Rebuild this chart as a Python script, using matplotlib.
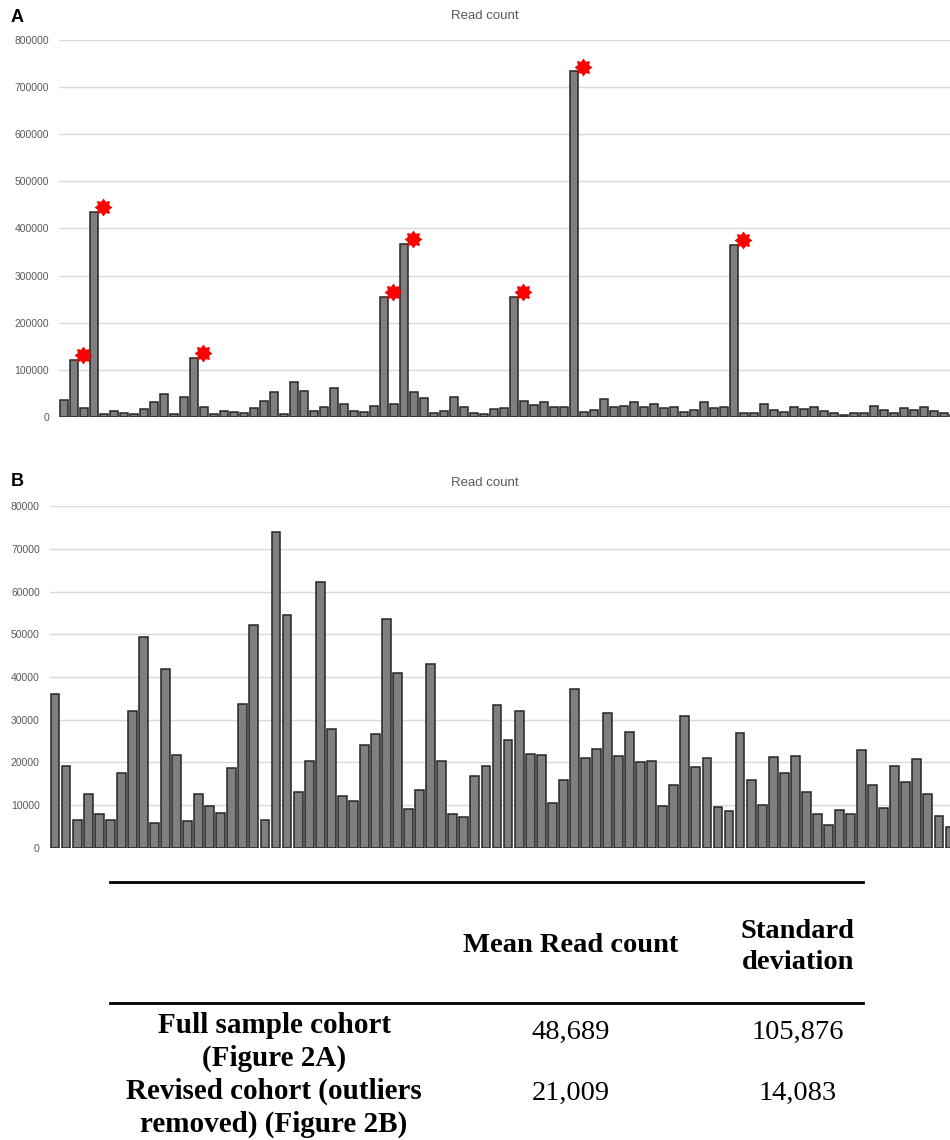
import matplotlib
matplotlib.use("Agg")
import matplotlib.pyplot as plt
from matplotlib.lines import Line2D
from matplotlib.path import Path
import numpy as np

# ---------------- data ----------------
# Full cohort read counts (Figure 2A), in sample order
read_counts_full = [
    36000, 121000, 19200, 435000, 6400, 12700, 8000, 6400, 17500, 32000,
    49300, 5900, 41800, 126000, 21800, 6300, 12600, 9700, 8100, 18700,
    33600, 52300, 6400, 74000, 54500, 13100, 20400, 62200, 27800, 12000,
    10900, 24100, 255000, 26600, 368000, 53600, 40900, 9000, 13500, 43100,
    20200, 8000, 7300, 16900, 19100, 255000, 33400, 25200, 32000, 22000,
    21700, 733500, 10500, 15900, 37200, 21100, 23100, 31500, 21600, 27200,
    20000, 20400, 9700, 14800, 30900, 18900, 21100, 366000, 9500, 8600,
    26900, 15900, 10100, 21300, 17600, 21600, 13000, 8000, 5300, 8800,
    7800, 23000, 14800, 9400, 19200, 15400, 20700, 12700, 7500, 4800,
]
# indices of samples flagged as outliers (red stars)
outlier_idx = [1, 3, 13, 32, 34, 45, 51, 67]

# revised cohort (Figure 2B) = full cohort without outliers
read_counts_revised = [v for i, v in enumerate(read_counts_full) if i not in outlier_idx]

yticks_a = [0, 100000, 200000, 300000, 400000, 500000, 600000, 700000, 800000]
yticks_b = [0, 10000, 20000, 30000, 40000, 50000, 60000, 70000, 80000]

table_cols = ["Mean Read count", "Standard\ndeviation"]
table_rows = ["Full sample cohort\n(Figure 2A)", "Revised cohort (outliers\nremoved) (Figure 2B)"]
table_means = ["48,689", "21,009"]
table_sds = ["105,876", "14,083"]

# ---------------- figure ----------------
W, H = 950, 1140
fig = plt.figure(figsize=(W / 100, H / 100), dpi=100)

def fx(px):
    return px / W

def fy(py):
    return 1 - py / H

bar_face = "#7f7f7f"
bar_edge = "#262626"
grid_col = "#d9d9d9"
tick_col = "#595959"
tick_font = "Liberation Sans"

# 8-pointed "seal" star marker
n_pts = 8
ang = np.linspace(0, 2 * np.pi, 2 * n_pts, endpoint=False) + np.pi / 2
rad = np.where(np.arange(2 * n_pts) % 2 == 0, 1.0, 0.68)
verts = np.column_stack([rad * np.cos(ang), rad * np.sin(ang)])
verts = np.vstack([verts, verts[:1]])
star_marker = Path(verts, closed=True)

def style_axes(ax, yticks):
    ax.set_yticks(yticks)
    ax.set_yticklabels([str(t) for t in yticks], fontsize=7.5, color=tick_col, family=tick_font)
    ax.set_ylim(yticks[0], yticks[-1])
    ax.yaxis.grid(True, color=grid_col, linewidth=1.0)
    ax.set_axisbelow(True)
    ax.set_xticks([])
    for s in ax.spines.values():
        s.set_visible(False)
    ax.tick_params(axis="y", length=0, pad=7)

# Panel A
axA = fig.add_axes([fx(59), fy(417), fx(950 - 59), fy(40) - fy(417)])
xa = np.arange(len(read_counts_full))
axA.bar(xa, read_counts_full, width=0.78, color=bar_face, edgecolor=bar_edge, linewidth=1.1, zorder=2)
style_axes(axA, yticks_a)
axA.set_xlim(-0.5, 88.6)
ox = [xa[i] + 0.85 for i in outlier_idx]
oy = [read_counts_full[i] + 10000 for i in outlier_idx]
axA.scatter(ox, oy, marker=star_marker, s=150, color="#ff0000", edgecolors="#e00000",
            linewidths=0.4, zorder=4, clip_on=False)

# Panel B
axB = fig.add_axes([fx(49.5), fy(847.7), fx(950 - 49.5), fy(506.3) - fy(847.7)])
xb = np.arange(len(read_counts_revised))
axB.bar(xb, read_counts_revised, width=0.8, color=bar_face, edgecolor=bar_edge, linewidth=1.1, zorder=2)
style_axes(axB, yticks_b)
axB.set_xlim(-0.5, 81.0)

# titles and panel letters
fig.text(fx(485), fy(16), "Read count", ha="center", va="center", fontsize=9.5, color=tick_col, family=tick_font)
fig.text(fx(485), fy(483), "Read count", ha="center", va="center", fontsize=9.5, color=tick_col, family=tick_font)
fig.text(fx(11), fy(18), "A", ha="left", va="center", fontsize=13, fontweight="bold", family="Liberation Sans")
fig.text(fx(11), fy(481), "B", ha="left", va="center", fontsize=13, fontweight="bold", family="Liberation Sans")

# ---------------- table ----------------
serif = "Liberation Serif"
for ly in (882, 1003):
    fig.add_artist(Line2D([fx(110), fx(863)], [fy(ly), fy(ly)], color="black", linewidth=2.0))

col_x = [571, 798]
fig.text(fx(col_x[0]), fy(946), table_cols[0], ha="center", va="center",
         fontsize=20.5, fontweight="bold", family=serif)
fig.text(fx(col_x[1]), fy(947), table_cols[1], ha="center", va="center",
         fontsize=20.5, fontweight="bold", family=serif, linespacing=1.32)

row_y = [1042, 1108]
num_y = [1032, 1093]
for r in range(2):
    fig.text(fx(274), fy(row_y[r]), table_rows[r], ha="center", va="center",
             fontsize=21, fontweight="bold", family=serif, linespacing=1.3)
    fig.text(fx(col_x[0]), fy(num_y[r]), table_means[r], ha="center", va="center",
             fontsize=20.5, family=serif)
    fig.text(fx(col_x[1]), fy(num_y[r]), table_sds[r], ha="center", va="center",
             fontsize=20.5, family=serif)

fig.savefig("out.png", dpi=100)
